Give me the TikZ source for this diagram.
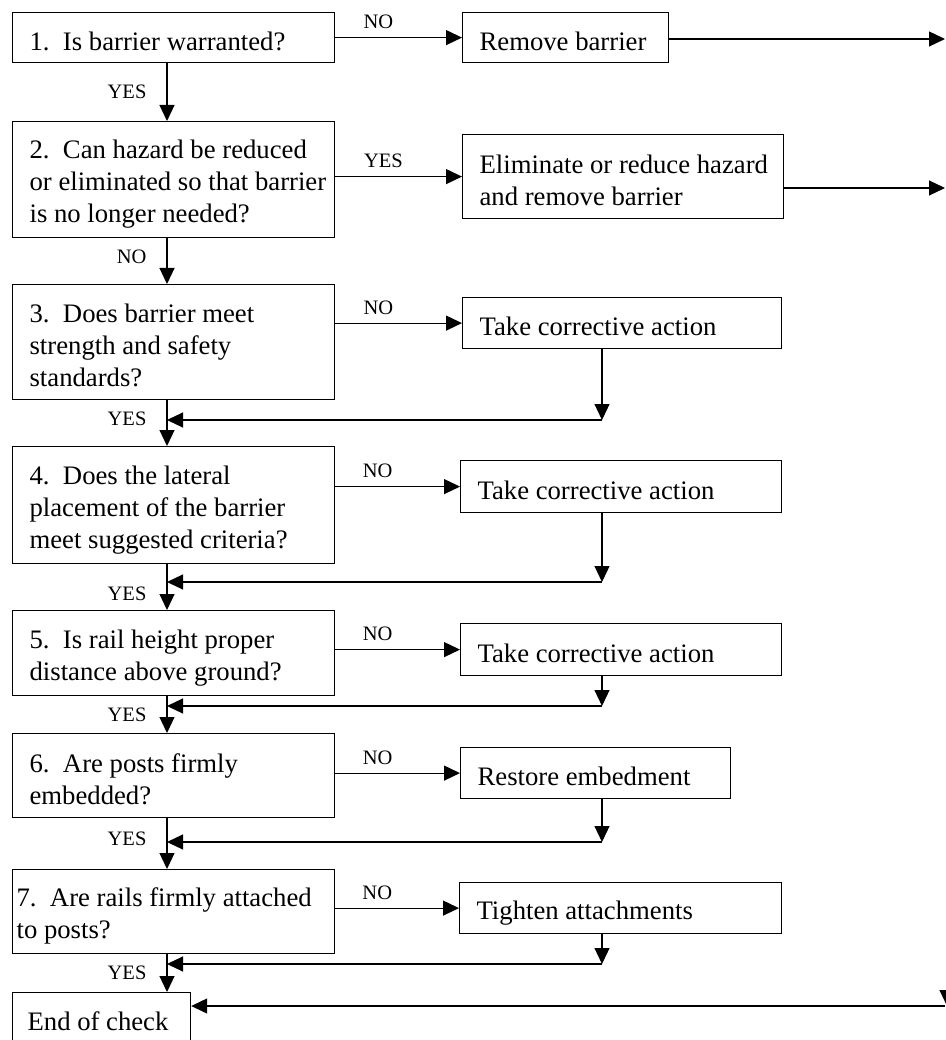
\documentclass[tikz,border=0pt]{standalone}
\usepackage{fontspec}
\setmainfont{Liberation Serif}
\usetikzlibrary{arrows.meta}

\newcommand{\boxfont}{\fontsize{26.7}{32}\selectfont}
\newcommand{\lblfont}{\fontsize{20.5}{24}\selectfont}
\newcommand{\topstrut}{\rule{0pt}{28pt}}
\newcommand{\botstrut}{\rule[-3pt]{0pt}{3pt}}

\tikzset{
  box pad/.initial=13pt,
  box/.style={draw, line width=1.2pt, rectangle, anchor=north west,
    inner xsep=4pt, inner ysep=0pt, align=flush left, font=\boxfont,
    execute at begin node={\spaceskip=0pt\xspaceskip=0pt\hyphenpenalty=10000
      \leftskip=\pgfkeysvalueof{/tikz/box pad}\topstrut},
    execute at end node=\botstrut},
  qbox/.style={box, text width=314pt},
  lbl/.style={font=\lblfont, inner sep=0pt},
  arr/.style={line width=1.2pt, -{Triangle[length=16pt,width=15pt]}}
}

\begin{document}
\begin{tikzpicture}[x=1pt, y=-1pt]
  \useasboundingbox (0,0) rectangle (945,1040);

  % Questions
  \node[qbox, minimum height=50pt] (q1) at (12,12) {1.\ \ Is barrier warranted?};
  \node[qbox, minimum height=116pt] (q2) at (12,121)
    {2.\ \ Can hazard be reduced\\ or eliminated so that barrier\\ is no longer needed?};
  \node[qbox, minimum height=115pt] (q3) at (12,284)
    {3.\ \ Does barrier meet\\ strength and safety\\ standards?};
  \node[qbox, minimum height=117pt] (q4) at (12,446)
    {4.\ \ Does the lateral\\ placement of the barrier\\ meet suggested criteria?};
  \node[qbox, minimum height=85pt] (q5) at (12,610)
    {5.\ \ Is rail height proper\\ distance above ground?};
  \node[qbox, minimum height=84pt] (q6) at (12,733)
    {6.\ \ Are posts firmly\\ embedded?};
  \node[qbox, box pad=0pt, minimum height=84pt] (q7) at (12,869)
    {7.\ \ Are rails firmly attached\\ to posts?};
  \node[box, box pad=11pt, text width=170pt, minimum height=50pt] (fin) at (12,992) {End of check};

  % Actions
  \node[box, text width=198pt, minimum height=50pt] (rm) at (462,12) {Remove barrier};
  \node[box, text width=313pt, minimum height=84pt] (el) at (462,134)
    {Eliminate or reduce hazard\\ and remove barrier};
  \node[box, text width=311pt, minimum height=51pt] (t3) at (462,297) {Take corrective action};
  \node[box, text width=313pt, minimum height=52pt] (t4) at (460,460) {Take corrective action};
  \node[box, text width=313pt, minimum height=52pt] (t5) at (460,623) {Take corrective action};
  \node[box, text width=262pt, minimum height=51pt] (t6) at (460,747) {Restore embedment};
  \node[box, text width=314pt, minimum height=51pt] (t7) at (459,882) {Tighten attachments};

  % Helper points
  \coordinate (spine) at (167,0);
  \coordinate (drop) at (602,0);
  \coordinate (out1) at (945,39);
  \coordinate (out2) at (945,188);
  \coordinate (j3) at (602,420);
  \coordinate (j4) at (602,582);
  \coordinate (j5) at (602,706);
  \coordinate (j6) at (602,842);
  \coordinate (j7) at (602,964);
  \coordinate (rtop) at (947,985);
  \coordinate (rbot) at (947,1006);

  % Main column
  \draw[arr] (q1.south -| spine) -- (q2.north -| spine) node[lbl, midway, left=20pt] {YES};
  \draw[arr] (q2.south -| spine) -- (q3.north -| spine) node[lbl, pos=0.4, left=20pt] {NO};
  \draw[arr] (q3.south -| spine) -- (q4.north -| spine) node[lbl, pos=0.4, left=20pt] {YES};
  \draw[arr] (q4.south -| spine) -- (q5.north -| spine) node[lbl, pos=0.65, left=20pt] {YES};
  \draw[arr] (q5.south -| spine) -- (q6.north -| spine) node[lbl, midway, left=20pt] {YES};
  \draw[arr] (q6.south -| spine) -- (q7.north -| spine) node[lbl, pos=0.4, left=20pt] {YES};
  \draw[arr] (q7.south -| spine) -- (fin.north -| spine) node[lbl, midway, left=20pt] {YES};

  % Branches
  \draw[arr] (q1.east |- rm.west) -- (rm.west) node[lbl, pos=0.34, above=8pt] {NO};
  \draw[arr] (q2.east |- el.west) -- (el.west) node[lbl, pos=0.38, above=8pt] {YES};
  \draw[arr] (q3.east |- t3.west) -- (t3.west) node[lbl, pos=0.34, above=8pt] {NO};
  \draw[arr] (q4.east |- t4.west) -- (t4.west) node[lbl, pos=0.34, above=8pt] {NO};
  \draw[arr] (q5.east |- t5.west) -- (t5.west) node[lbl, pos=0.34, above=8pt] {NO};
  \draw[arr] (q6.east |- t6.west) -- (t6.west) node[lbl, pos=0.34, above=8pt] {NO};
  \draw[arr] (q7.east |- t7.west) -- (t7.west) node[lbl, pos=0.34, above=8pt] {NO};

  % Off to the right
  \draw[arr] (rm.east |- out1) -- (out1);
  \draw[arr] (el.east |- out2) -- (out2);

  % Back to the main column
  \draw[arr] (t3.south -| drop) -- (j3);
  \draw[arr] (j3) -- (j3 -| spine);
  \draw[arr] (t4.south -| drop) -- (j4);
  \draw[arr] (j4) -- (j4 -| spine);
  \draw[arr] (t5.south -| drop) -- (j5);
  \draw[arr] (j5) -- (j5 -| spine);
  \draw[arr] (t6.south -| drop) -- (j6);
  \draw[arr] (j6) -- (j6 -| spine);
  \draw[arr] (t7.south -| drop) -- (j7);
  \draw[arr] (j7) -- (j7 -| spine);

  % Return to end
  \draw[arr] (rtop) -- (rbot);
  \draw[arr] (rbot -| out1) -- (rbot -| fin.east);
\end{tikzpicture}
\end{document}
